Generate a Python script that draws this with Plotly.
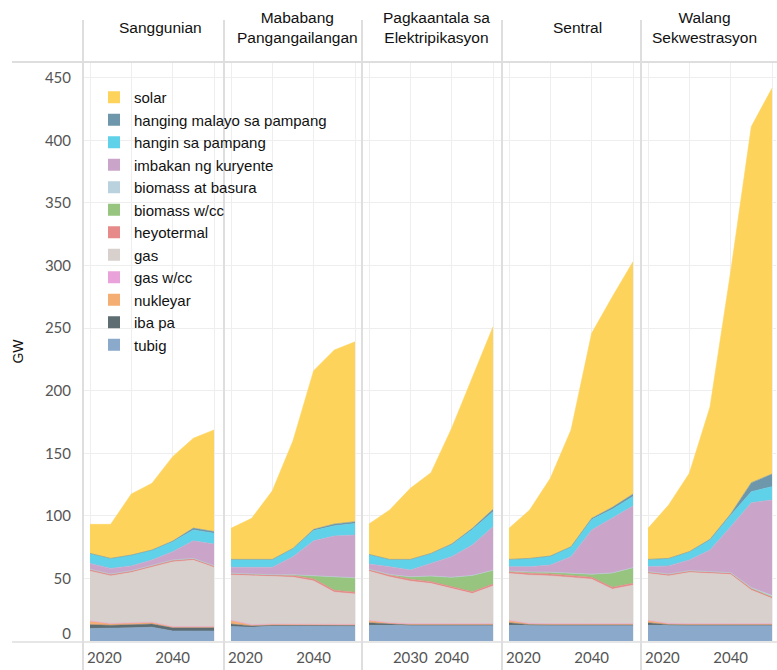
import plotly.graph_objects as go

years = [2020, 2025, 2030, 2035, 2040, 2045, 2050]
scenarios = ["Sanggunian", "Mababang<br>Pangangailangan", "Pagkaantala sa<br>Elektripikasyon",
             "Sentral", "Walang<br>Sekwestrasyon"]

# values in GW, one list per scenario (same order as scenarios)
tubig = [[10, 10, 10.5, 11, 8, 8, 8],
         [11.5, 11, 12, 12, 12, 12, 12],
         [12.5, 12.5, 12.5, 12.5, 12.5, 12.5, 12.5],
         [12.5, 12.5, 12.5, 12.5, 12.5, 12.5, 12.5],
         [12.5, 12.5, 12.5, 12.5, 12.5, 12.5, 12.5]]
iba_pa = [[3, 2.5, 2.5, 2.5, 2.5, 2.5, 2.5],
          [2, 1, 0.5, 0.3, 0.3, 0.3, 0.3],
          [2, 1, 0.3, 0.3, 0.3, 0.3, 0.3],
          [2, 0.5, 0.3, 0.3, 0.3, 0.3, 0.3],
          [2, 0.5, 0.3, 0.3, 0.3, 0.3, 0.3]]
nukleyar = [[3, 1.5, 1.5, 1.5, 1, 1, 1],
            [3, 1, 1, 1, 1, 1, 1],
            [2, 1, 1, 1, 1, 1, 1],
            [2, 1, 1, 1, 1, 1, 1],
            [2, 1, 1, 1, 1, 1, 1]]
gas_wcc = [[0, 0, 0, 0, 0, 0, 0],
           [0, 0, 0, 0, 0, 0, 0],
           [0, 0, 0, 0, 0, 0, 0],
           [0, 0, 0, 0, 0, 0, 0],
           [0, 0, 0, 0, 0, 0, 0]]
gas = [[39.8, 38, 40.2, 43.7, 51.7, 53, 47.2],
       [36.2, 39, 37.9, 37.6, 34.7, 25.7, 24.2],
       [39.3, 36.7, 34, 32.1, 28.1, 24.1, 30.2],
       [37.4, 38.6, 38.2, 36.7, 35.6, 27.6, 30.8],
       [37.4, 38, 40.9, 40.1, 39.3, 26.8, 20.1]]
heyotermal = [[1.5, 1.5, 1.5, 1.5, 1.5, 1.5, 1.5],
              [1.5, 1.5, 1.5, 1.5, 1.5, 1.5, 1.5],
              [1.5, 1.5, 1.5, 1.5, 1.5, 1.5, 1.5],
              [1.5, 1.5, 1.5, 1.5, 1.5, 1.5, 1.5],
              [1.5, 1.5, 1.5, 1.5, 1.5, 1.5, 1.5]]
biomass_wcc = [[0, 0, 0, 0, 0, 0, 0],
               [0, 0, 0, 0.5, 2.5, 10.5, 11.5],
               [0, 0.5, 2, 4.5, 7.5, 13, 11],
               [0.5, 1, 1.5, 2, 2.5, 11.5, 12.5],
               [0, 0, 0, 0, 0, 0, 0]]
biomass_basura = [[0, 0, 0, 0, 0, 0, 0],
                  [0, 0, 0, 0, 0, 0, 0],
                  [0, 0, 0, 0, 0, 0, 0],
                  [0, 0, 0, 0, 0, 0, 0],
                  [0, 0, 0, 0, 0, 0.5, 1]]
imbakan = [[4.7, 4.5, 3.8, 4.5, 6.7, 14, 17.3],
           [4.7, 5.4, 6, 14.5, 28.1, 32.9, 34.2],
           [4.2, 6.2, 5.4, 10.1, 16.5, 24.3, 34.8],
           [3.5, 4.3, 5.7, 13.4, 35.3, 43.6, 49.3],
           [4, 6.5, 8.5, 17.3, 36.7, 67.9, 76.3]]
hangin = [[8, 8, 8.7, 8, 7.9, 8.7, 8.5],
          [6.3, 6.3, 6.3, 6.6, 8.1, 8.1, 9.1],
          [7.7, 5.8, 8.5, 8, 9.6, 12.3, 11.9],
          [5.8, 6.6, 7.2, 7.9, 8.3, 7.3, 7.5],
          [5.8, 6, 6.7, 8, 9.2, 8.8, 10.6]]
hanging_malayo = [[0, 0, 0, 0, 0.5, 1.5, 1.5],
                  [0, 0, 0, 0, 1, 1.5, 1.5],
                  [0, 0, 0, 0, 0.5, 1, 2],
                  [0, 0, 0, 0, 1, 1.5, 2],
                  [0, 0, 0, 0.5, 1, 7.2, 10.1]]
solar = [[23.2, 27.2, 48.7, 53.3, 67.5, 71.8, 81.1],
         [24.8, 32.8, 54.8, 86, 126.8, 139, 143.7],
         [24.3, 39.5, 56.8, 64.5, 92.5, 121, 145.8],
         [24.8, 38.7, 62.1, 93.3, 147.8, 168.2, 185.6],
         [24.8, 42.7, 62.6, 105.8, 193.5, 284.5, 308.2]]

x_ticks = [2020, 2030, 2040, 2050]
y_ticks = [0, 50, 100, 150, 200, 250, 300, 350, 400, 450]
y_ticktext = ["", "50", "100", "150", "200", "250", "300", "350", "400", "450"]

# stacking order bottom -> top
layers = [
    ("tubig", tubig, "#8AA9CB"),
    ("iba pa", iba_pa, "#5D6D72"),
    ("nukleyar", nukleyar, "#F4AD73"),
    ("gas w/cc", gas_wcc, "#E9A3DA"),
    ("gas", gas, "#D7D0CC"),
    ("heyotermal", heyotermal, "#E68A8A"),
    ("biomass w/cc", biomass_wcc, "#97C47F"),
    ("biomass at basura", biomass_basura, "#B9D2DE"),
    ("imbakan ng kuryente", imbakan, "#CBA5C9"),
    ("hangin sa pampang", hangin, "#5FD2E9"),
    ("hanging malayo sa pampang", hanging_malayo, "#6E97AB"),
    ("solar", solar, "#FDD35C"),
]

FONT = "Arial, 'Liberation Sans', sans-serif"
TICKFONT = dict(family="Lato, 'Open Sans', sans-serif", size=15, color="#555555")
GRID = "#eeeeee"
SEP = "#dedede"

W, H = 777, 670
L, R, T, B = 83, 0, 62, 29
PW = W - L - R
PH = H - T - B
seps = [83, 224, 362, 502, 641, 777]
ppy = 124 / 30.0          # pixels per year
y_top = PH / 1.2516       # value at top of plotting area


def px_x(px):
    return (px - L) / PW


def px_y(py):
    return (H - B - py) / PH


fig = go.Figure()

for i in range(5):
    xs = "x" if i == 0 else f"x{i + 1}"
    ys = "y" if i == 0 else f"y{i + 1}"
    for name, data, color in layers:
        fig.add_trace(go.Scatter(
            x=years, y=data[i], name=name, mode="lines",
            stackgroup=f"s{i}", fillcolor=color,
            line=dict(width=0.6, color=color),
            xaxis=xs, yaxis=ys, showlegend=False, hoverinfo="skip"))

# legend entries (square swatches), top to bottom
for name, data, color in reversed(layers):
    fig.add_trace(go.Scatter(
        x=[None], y=[None], mode="markers", name=name,
        marker=dict(symbol="square", size=12, color=color),
        xaxis="x", yaxis="y", showlegend=True))

layout = {}
for i in range(5):
    xa = "xaxis" if i == 0 else f"xaxis{i + 1}"
    ya = "yaxis" if i == 0 else f"yaxis{i + 1}"
    xs = "x" if i == 0 else f"x{i + 1}"
    ys = "y" if i == 0 else f"y{i + 1}"
    p0 = seps[i] + 1
    p1 = seps[i + 1] - 1
    x0 = 2020 - 6 / ppy
    x1 = x0 + (p1 - p0) / ppy
    if i == 2:
        ttext = ["", "2030", "2040", ""]
    else:
        ttext = ["", "", "2040", ""]
    layout[xa] = dict(domain=[px_x(p0), px_x(p1)], range=[x0, x1], anchor=ys,
                      tickvals=x_ticks, ticktext=ttext, showgrid=True, gridcolor=GRID,
                      gridwidth=1, zeroline=False, showline=False, ticks="",
                      tickfont=TICKFONT, ticklabelstandoff=6, fixedrange=True,
                      automargin=False)
    layout[ya] = dict(domain=[0, 1], range=[0, y_top], anchor=xs,
                      tickvals=y_ticks, ticktext=y_ticktext,
                      showgrid=True, gridcolor=GRID, gridwidth=1,
                      zeroline=False, showline=False, ticks="",
                      showticklabels=(i == 0), tickfont=TICKFONT,
                      ticklabelstandoff=12, fixedrange=True, automargin=False)
    if i != 2:
        ox = f"x{i + 6}"
        oa = f"xaxis{i + 6}"
        layout[oa] = dict(overlaying=xs, anchor=ys, range=[x0, x1],
                          tickvals=[2020], ticktext=["2020"],
                          ticklabelposition="outside right", ticklabelshift=-3,
                          showgrid=False, zeroline=False, showline=False, ticks="",
                          tickfont=TICKFONT, ticklabelstandoff=6, fixedrange=True,
                          automargin=False)
        fig.add_trace(go.Scatter(x=[None], y=[None], mode="markers", xaxis=ox,
                                 yaxis=ys, showlegend=False, hoverinfo="skip"))

# zero label sits just above the baseline, as in the reference
layout["yaxis11"] = dict(overlaying="y", anchor="x", side="left", range=[0, y_top],
                         tickvals=[0], ticktext=["0"], ticklabelposition="outside top",
                         ticklabelshift=3, showgrid=False, zeroline=False, showline=False,
                         ticks="", tickfont=TICKFONT, ticklabelstandoff=12,
                         fixedrange=True, automargin=False)
fig.add_trace(go.Scatter(x=[None], y=[None], mode="markers", xaxis="x", yaxis="y11",
                         showlegend=False, hoverinfo="skip"))

layout["yaxis"]["title"] = dict(text="GW", font=dict(family=FONT, size=14, color="#111"),
                                standoff=17)

shapes = []
for s in seps[:-1]:
    shapes.append(dict(type="line", xref="paper", yref="paper",
                       x0=px_x(s), x1=px_x(s), y0=px_y(670), y1=px_y(20),
                       line=dict(color=SEP, width=2)))
shapes.append(dict(type="line", xref="paper", yref="paper",
                   x0=px_x(12), x1=1, y0=px_y(62), y1=px_y(62),
                   line=dict(color=SEP, width=2)))
shapes.append(dict(type="line", xref="paper", yref="paper",
                   x0=px_x(12), x1=1, y0=px_y(642), y1=px_y(642),
                   line=dict(color=SEP, width=1.5)))

header_x = [160, 297, 436, 577, 704]
annotations = []
for i, txt in enumerate(scenarios):
    annotations.append(dict(text=txt, xref="paper", yref="paper",
                            x=px_x(header_x[i]), y=px_y(27), xanchor="center",
                            yanchor="middle", showarrow=False,
                            font=dict(family=FONT, size=15.5, color="#111")))

fig.update_layout(
    width=W, height=H,
    margin=dict(l=L, r=R, t=T, b=B, pad=0),
    paper_bgcolor="white", plot_bgcolor="white",
    font=dict(family=FONT, size=15, color="#111"),
    showlegend=True,
    legend=dict(x=px_x(94), y=px_y(81), xanchor="left", yanchor="top",
                bgcolor="rgba(0,0,0,0)", borderwidth=0,
                font=dict(family=FONT, size=15, color="#111"),
                traceorder="normal", itemclick=False, itemdoubleclick=False),
    shapes=shapes, annotations=annotations,
    **layout)

fig.write_html("out.html", config={"displayModeBar": False},
               post_script="document.body.style.margin='0';document.body.style.overflow='hidden';")
